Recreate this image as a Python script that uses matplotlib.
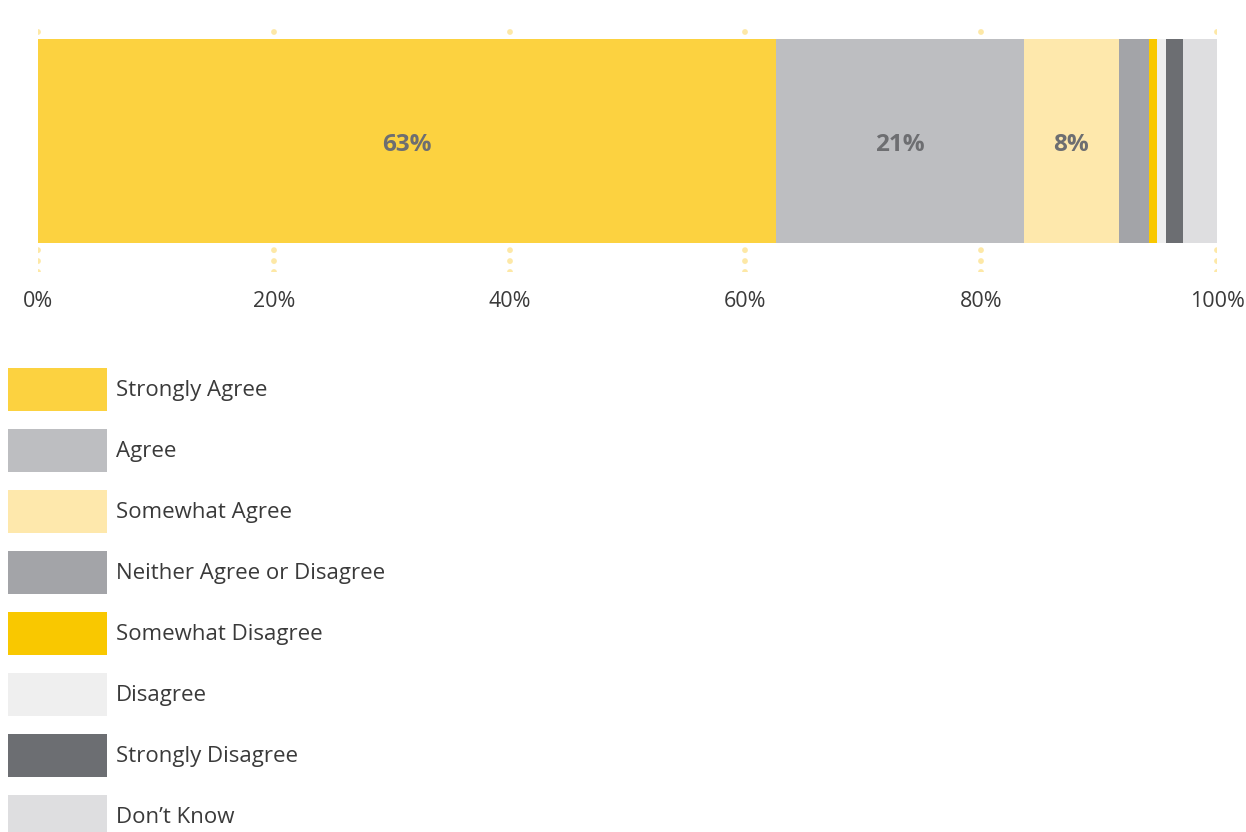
import matplotlib.pyplot as plt
from matplotlib.patches import Patch

plt.rcParams['font.family'] = ['Open Sans', 'DejaVu Sans']

categories = ['Strongly Agree', 'Agree', 'Somewhat Agree', 'Neither Agree or Disagree',
              'Somewhat Disagree', 'Disagree', 'Strongly Disagree', 'Don\u2019t Know']
values = [62.6, 21.0, 8.1, 2.5, 0.7, 0.8, 1.4, 2.9]
labels = ['63%', '21%', '8%', '', '', '', '', '']
colors = ['#FCD240', '#BDBEC1', '#FEE8AC', '#A3A4A8',
          '#F9C800', '#EFEFEF', '#6C6E72', '#DEDEE0']
ticks = [0, 20, 40, 60, 80, 100]

W, H = 1246, 832
fig = plt.figure(figsize=(W / 100, H / 100), dpi=100)
ax = fig.add_axes([38 / W, 1 - 272 / H, (1217 - 38) / W, 250 / H])

left = 0
for v, c, lab in zip(values, colors, labels):
    ax.barh(0, v, left=left, height=1.0, color=c, zorder=2)
    if lab:
        ax.text(left + v / 2, -0.02, lab, ha='center', va='center',
                fontsize=17.5, fontweight='bold', color='#6D6E71', zorder=3)
    left += v

ax.set_xlim(0, 100)
ax.set_ylim(-0.642, 0.583)
ax.set_xticks(ticks)
ax.set_xticklabels([f'{t}%' for t in ticks], fontsize=15.5, color='#3A3A3A')
ax.set_yticks([])
ax.tick_params(axis='x', length=0, pad=14)
# dotted guides behind the bar
ax.grid(axis='x', color='#FDE8A6', linewidth=4.2,
        linestyle=(0, (0.01, 1.86)), dash_capstyle='round', zorder=0)
ax.set_axisbelow(True)
for s in ax.spines.values():
    s.set_visible(False)

handles = [Patch(facecolor=c, edgecolor='none') for c in colors]
fs = 16
px = fs * 100 / 72
hh = (43 / px - 0.245) / 0.65
fig.legend(handles, categories, loc='upper left',
           bbox_to_anchor=(8 / W, 1 - 368 / H), frameon=False,
           fontsize=fs, handlelength=99 / px, handleheight=hh,
           handletextpad=9 / px, labelspacing=18 / px, borderpad=0,
           borderaxespad=0, labelcolor='#3A3A3A')

fig.savefig('out.png', dpi=100)
